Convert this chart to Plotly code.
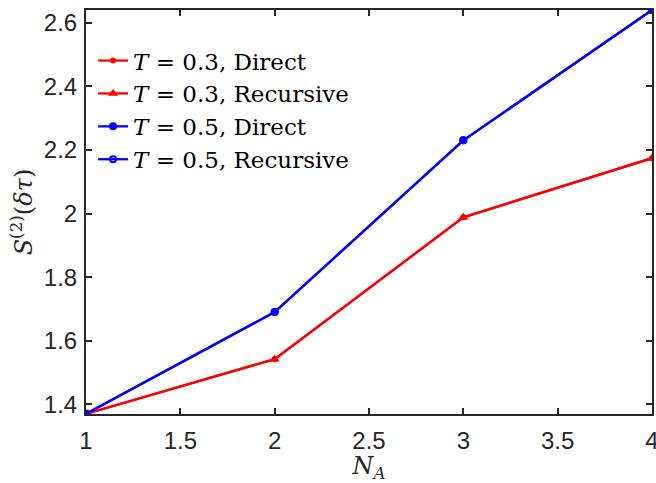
import plotly.graph_objects as go

# Second-order quantity S^(2)(δτ) versus subsystem size N_A
n_a = [1, 2, 3, 4]
s2_t03_direct = [1.37, 1.542, 1.988, 2.174]
s2_t03_recursive = [1.37, 1.542, 1.988, 2.174]
s2_t05_direct = [1.37, 1.690, 2.230, 2.640]
s2_t05_recursive = [1.37, 1.690, 2.230, 2.640]

x_ticks = [1, 1.5, 2, 2.5, 3, 3.5, 4]
x_tick_text = ["1", "1.5", "2", "2.5", "3", "3.5", "4"]
y_ticks = [1.4, 1.6, 1.8, 2.0, 2.2, 2.4, 2.6]
y_tick_text = ["1.4", "1.6", "1.8", "2", "2.2", "2.4", "2.6"]

RED = "#FF0000"
BLUE = "#0000FF"
AXIS = "#262626"
SERIF = "DejaVu Serif, Liberation Serif, serif"
SANS = "Liberation Sans, Arial, Helvetica, sans-serif"
EQ = " = "

fig = go.Figure()
fig.add_trace(go.Scatter(
    x=n_a, y=s2_t03_direct, mode="lines+markers",
    name=f"<i>T</i>{EQ}0.3, Direct",
    line=dict(color=RED, width=2.3),
    marker=dict(symbol="circle", size=6, color=RED),
))
fig.add_trace(go.Scatter(
    x=n_a, y=s2_t03_recursive, mode="lines+markers",
    name=f"<i>T</i>{EQ}0.3, Recursive",
    line=dict(color=RED, width=2.3),
    marker=dict(symbol="triangle-up", size=9, color=RED),
))
fig.add_trace(go.Scatter(
    x=n_a, y=s2_t05_direct, mode="lines+markers",
    name=f"<i>T</i>{EQ}0.5, Direct",
    line=dict(color=BLUE, width=2.3),
    marker=dict(symbol="circle", size=8, color=BLUE),
))
fig.add_trace(go.Scatter(
    x=n_a, y=s2_t05_recursive, mode="lines+markers",
    name=f"<i>T</i>{EQ}0.5, Recursive",
    line=dict(color=BLUE, width=2.3),
    marker=dict(symbol="circle-open", size=6, color=BLUE, line=dict(width=2)),
))

axis_common = dict(
    showline=True, linecolor=AXIS, linewidth=2, mirror="ticks",
    ticks="inside", ticklen=6, tickwidth=2, tickcolor=AXIS,
    showgrid=False, zeroline=False, ticklabeloverflow="allow",
    automargin=False,
    tickfont=dict(family=SANS, size=24, color=AXIS),
)

fig.update_layout(
    width=656, height=483,
    margin=dict(l=86, r=4, t=10, b=69),
    paper_bgcolor="white", plot_bgcolor="white",
    showlegend=True,
    legend=dict(
        x=0.0125, y=0.928, xanchor="left", yanchor="top",
        bgcolor="rgba(0,0,0,0)", borderwidth=0,
        font=dict(family=SERIF, size=23, color="black"),
        itemwidth=30, tracegroupgap=0,
    ),
    xaxis=dict(
        range=[1, 4], tickvals=x_ticks, ticktext=x_tick_text,
        ticklabelstandoff=4,
        title=dict(text="<i>N</i><sub><i>A</i></sub>", standoff=0,
                   font=dict(family=SERIF, size=24, color=AXIS)),
        **axis_common,
    ),
    yaxis=dict(
        range=[1.3695, 2.64], tickvals=y_ticks, ticktext=y_tick_text,
        ticklabelstandoff=2,
        title=dict(text="<i>S</i><sup>(2)</sup>(<i>δτ</i>)", standoff=4,
                   font=dict(family=SERIF, size=24, color=AXIS)),
        **axis_common,
    ),
)

fig.write_html("out.html")
